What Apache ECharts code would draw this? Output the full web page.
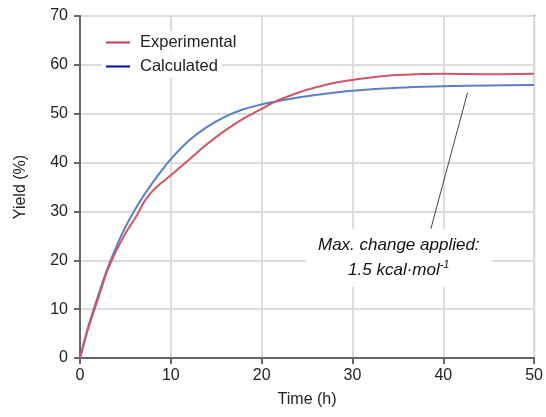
<!DOCTYPE html>
<html>
<head>
<meta charset="utf-8">
<script src="https://cdn.jsdelivr.net/npm/echarts@6/dist/echarts.min.js"></script>
<style>html,body{margin:0;padding:0;background:#fff}#c{width:546px;height:417px}</style>
</head>
<body>
<div id="c"></div>
<script>
const expTime = [0, 0.5, 1, 2, 3, 3.5, 4, 5, 5.5, 6, 6.5, 7, 7.5, 8, 8.5, 9, 10, 11, 12, 14, 16, 18, 20, 21.3, 22, 24, 26, 28, 30, 32, 35, 40, 45, 50];
const expYield = [0, 3.4, 6.6, 12.2, 17.8, 20, 22, 25.5, 27, 28.4, 30, 31.8, 33.1, 34.2, 35.1, 35.9, 37.4, 39, 40.6, 43.8, 46.6, 49, 51, 52.3, 52.9, 54.3, 55.4, 56.3, 56.9, 57.4, 57.9, 58.2, 58.1, 58.2];
const calcTime = [0, 0.5, 1, 2, 3, 4, 5, 6, 7, 8, 9, 10, 12, 14, 16, 18, 20, 21.3, 24, 27, 30, 35, 40, 45, 50];
const calcYield = [0, 3.7, 7, 12.8, 18.2, 22.8, 26.8, 30.2, 33.2, 35.9, 38.4, 40.7, 44.5, 47.3, 49.4, 50.9, 51.9, 52.4, 53.3, 54.1, 54.7, 55.3, 55.6, 55.8, 55.9];
const xTicks = [0, 10, 20, 30, 40, 50];
const yTicks = [0, 10, 20, 30, 40, 50, 60, 70];
const seriesNames = ['Experimental', 'Calculated'];
const annotationLines = ['Max. change applied:', '1.5 kcal·mol'];
const annotationSup = '-1';
const annotationAnchor = [35.1, 20.5];
const leaderLine = [[38.48, 25.4], [42.67, 54.3]];

const FONT = '"Liberation Sans", Arial, sans-serif';
const chart = echarts.init(document.getElementById('c'), null, {renderer: 'canvas'});
const pair = (xs, ys) => xs.map((x, i) => [x, ys[i]]);

chart.setOption({
  animation: false,
  backgroundColor: '#fff',
  grid: {left: 80, right: 9, top: 16, bottom: 59, show: true, borderColor: '#666', borderWidth: 2, backgroundColor: 'transparent'},
  legend: [
    {
      data: [{name: seriesNames[0], itemStyle: {color: '#c8394f'}}],
      left: 102, top: 31, orient: 'vertical', icon: 'rect', itemWidth: 24, itemHeight: 2,
      backgroundColor: '#fff', padding: [3, 4, 3, 4],
      textStyle: {fontFamily: FONT, fontSize: 16.5, color: '#222', padding: [0, 0, 0, 5]}
    },
    {
      data: [{name: seriesNames[1], itemStyle: {color: '#0000cc'}}],
      left: 102, top: 55, orient: 'vertical', icon: 'rect', itemWidth: 24, itemHeight: 2,
      backgroundColor: '#fff', padding: [3, 4, 3, 4],
      textStyle: {fontFamily: FONT, fontSize: 16.5, color: '#222', padding: [0, 0, 0, 5]}
    }
  ],
  xAxis: {
    type: 'value', min: xTicks[0], max: xTicks[xTicks.length - 1], interval: 10,
    name: 'Time (h)', nameLocation: 'middle', nameGap: 34,
    nameTextStyle: {fontFamily: FONT, fontSize: 16, color: '#222'},
    axisLine: {show: true, lineStyle: {color: '#666', width: 2}},
    axisTick: {show: true, length: 6, lineStyle: {color: '#666', width: 2}},
    axisLabel: {fontFamily: FONT, fontSize: 16, color: '#222', margin: 10},
    splitLine: {show: true, lineStyle: {color: '#dcdcdc', width: 2}}
  },
  yAxis: {
    type: 'value', min: yTicks[0], max: yTicks[yTicks.length - 1], interval: 10,
    name: 'Yield (%)', nameLocation: 'middle', nameGap: 51, nameRotate: 90,
    nameTextStyle: {fontFamily: FONT, fontSize: 16, color: '#222'},
    axisLine: {show: true, lineStyle: {color: '#666', width: 2}},
    axisTick: {show: true, length: 6, lineStyle: {color: '#666', width: 2}},
    axisLabel: {fontFamily: FONT, fontSize: 16, color: '#222', margin: 12},
    splitLine: {show: true, lineStyle: {color: '#dcdcdc', width: 2}}
  },
  series: [
    {
      name: seriesNames[1], type: 'line', data: pair(calcTime, calcYield), smooth: 0.35,
      showSymbol: false, lineStyle: {color: '#5b80c2', width: 2}, itemStyle: {color: '#5b80c2'}, z: 3
    },
    {
      name: seriesNames[0], type: 'line', data: pair(expTime, expYield), smooth: 0.3,
      showSymbol: false, lineStyle: {color: '#d05663', width: 2}, itemStyle: {color: '#d05663'}, z: 4,
      markLine: {
        silent: true, symbol: ['none', 'none'],
        lineStyle: {color: '#444', width: 1, type: 'solid'}, label: {show: false},
        data: [[{coord: leaderLine[0]}, {coord: leaderLine[1]}]]
      },
      markPoint: {
        silent: true, symbol: 'circle', symbolSize: 0,
        data: [{coord: annotationAnchor}],
        label: {
          show: true, position: 'inside',
          backgroundColor: '#fff', padding: [4, 12, 4, 12],
          formatter: '{a|' + annotationLines[0] + '}\n{a|' + annotationLines[1] + '}{s|' + annotationSup + '}',
          rich: {
            a: {fontFamily: FONT, fontSize: 17, fontStyle: 'italic', color: '#111', lineHeight: 25, align: 'center'},
            s: {fontFamily: FONT, fontSize: 11, fontStyle: 'italic', color: '#111', lineHeight: 25, padding: [0, 0, 11, 0]}
          }
        }
      }
    }
  ]
});
</script>
</body>
</html>
